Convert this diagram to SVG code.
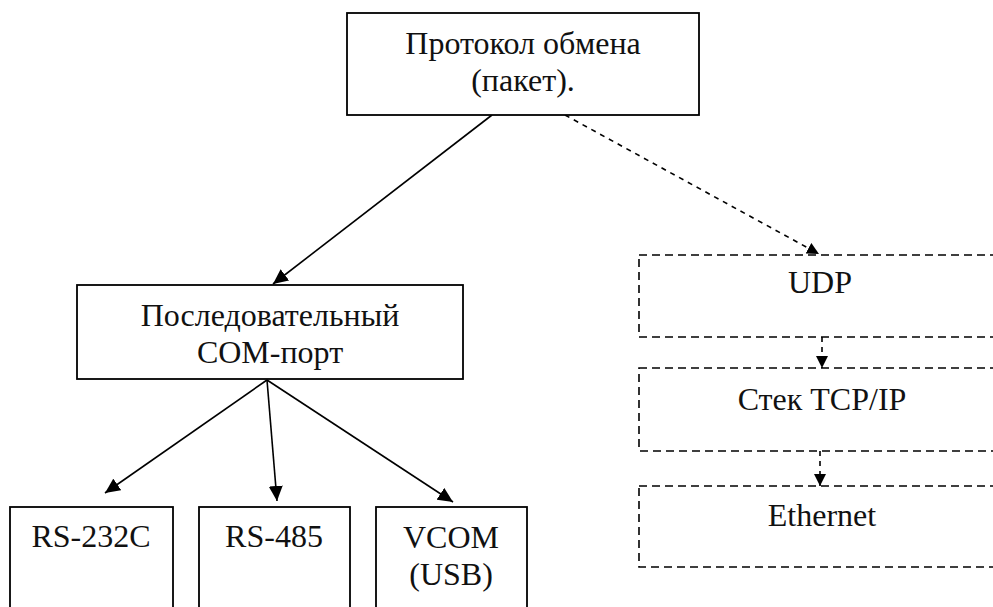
<svg xmlns="http://www.w3.org/2000/svg" width="993" height="607" viewBox="0 0 993 607">
<style>
.box{fill:#fff;stroke:#000;stroke-width:1.8}
.dbox{fill:#fff;stroke:#000;stroke-width:1.6;stroke-dasharray:8 5}
.t{font-family:'Liberation Serif','Times New Roman',serif;font-size:32px;fill:#111;text-anchor:middle}
.c{fill:none;stroke:#000;stroke-width:1.6}
.dc{fill:none;stroke:#000;stroke-width:1.6;stroke-dasharray:5 5}
</style>
<defs>
<marker id="a" markerUnits="userSpaceOnUse" markerWidth="16" markerHeight="14" refX="15" refY="7" orient="auto">
<path d="M0,0 L15,7 L0,14 z" fill="#000"/>
</marker>
<marker id="da" markerUnits="userSpaceOnUse" markerWidth="13" markerHeight="12" refX="12" refY="6" orient="auto">
<path d="M0,0 L12,6 L0,12 z" fill="#000"/>
</marker>
</defs>
<g id="connectors">
<line class="c" x1="492" y1="115" x2="273" y2="284" marker-end="url(#a)"/>
<line class="dc" x1="565" y1="115" x2="819" y2="254" marker-end="url(#da)"/>
<line class="c" x1="267" y1="380" x2="105" y2="493" marker-end="url(#a)"/>
<line class="c" x1="267" y1="380" x2="277" y2="501" marker-end="url(#a)"/>
<line class="c" x1="267" y1="380" x2="453" y2="502" marker-end="url(#a)"/>
<line class="dc" x1="822" y1="337" x2="822" y2="368" marker-end="url(#da)"/>
<line class="dc" x1="820" y1="451" x2="820" y2="486" marker-end="url(#da)"/>
</g>
<g id="protocol">
<rect class="box" x="347" y="13" width="352" height="102"/>
<text class="t" x="523" y="54">Протокол обмена</text>
<text class="t" x="523" y="91">(пакет).</text>
</g>
<g id="com">
<rect class="box" x="77" y="285" width="386" height="94"/>
<text class="t" x="270" y="326">Последовательный</text>
<text class="t" x="270" y="363">COM-порт</text>
</g>
<g id="rs232">
<rect class="box" x="10" y="507" width="163" height="120"/>
<text class="t" x="91" y="547">RS-232C</text>
</g>
<g id="rs485">
<rect class="box" x="199" y="507" width="151" height="120"/>
<text class="t" x="274" y="547">RS-485</text>
</g>
<g id="vcom">
<rect class="box" x="376" y="507" width="151" height="120"/>
<text class="t" x="451" y="548">VCOM</text>
<text class="t" x="451" y="585">(USB)</text>
</g>
<g id="udp">
<rect class="dbox" x="639" y="255" width="366" height="82"/>
<text class="t" x="820" y="293">UDP</text>
</g>
<g id="tcpip">
<rect class="dbox" x="639" y="368" width="366" height="83"/>
<text class="t" x="822" y="410">Стек TCP/IP</text>
</g>
<g id="ethernet">
<rect class="dbox" x="639" y="486" width="366" height="81"/>
<text class="t" x="822" y="526">Ethernet</text>
</g>
</svg>
